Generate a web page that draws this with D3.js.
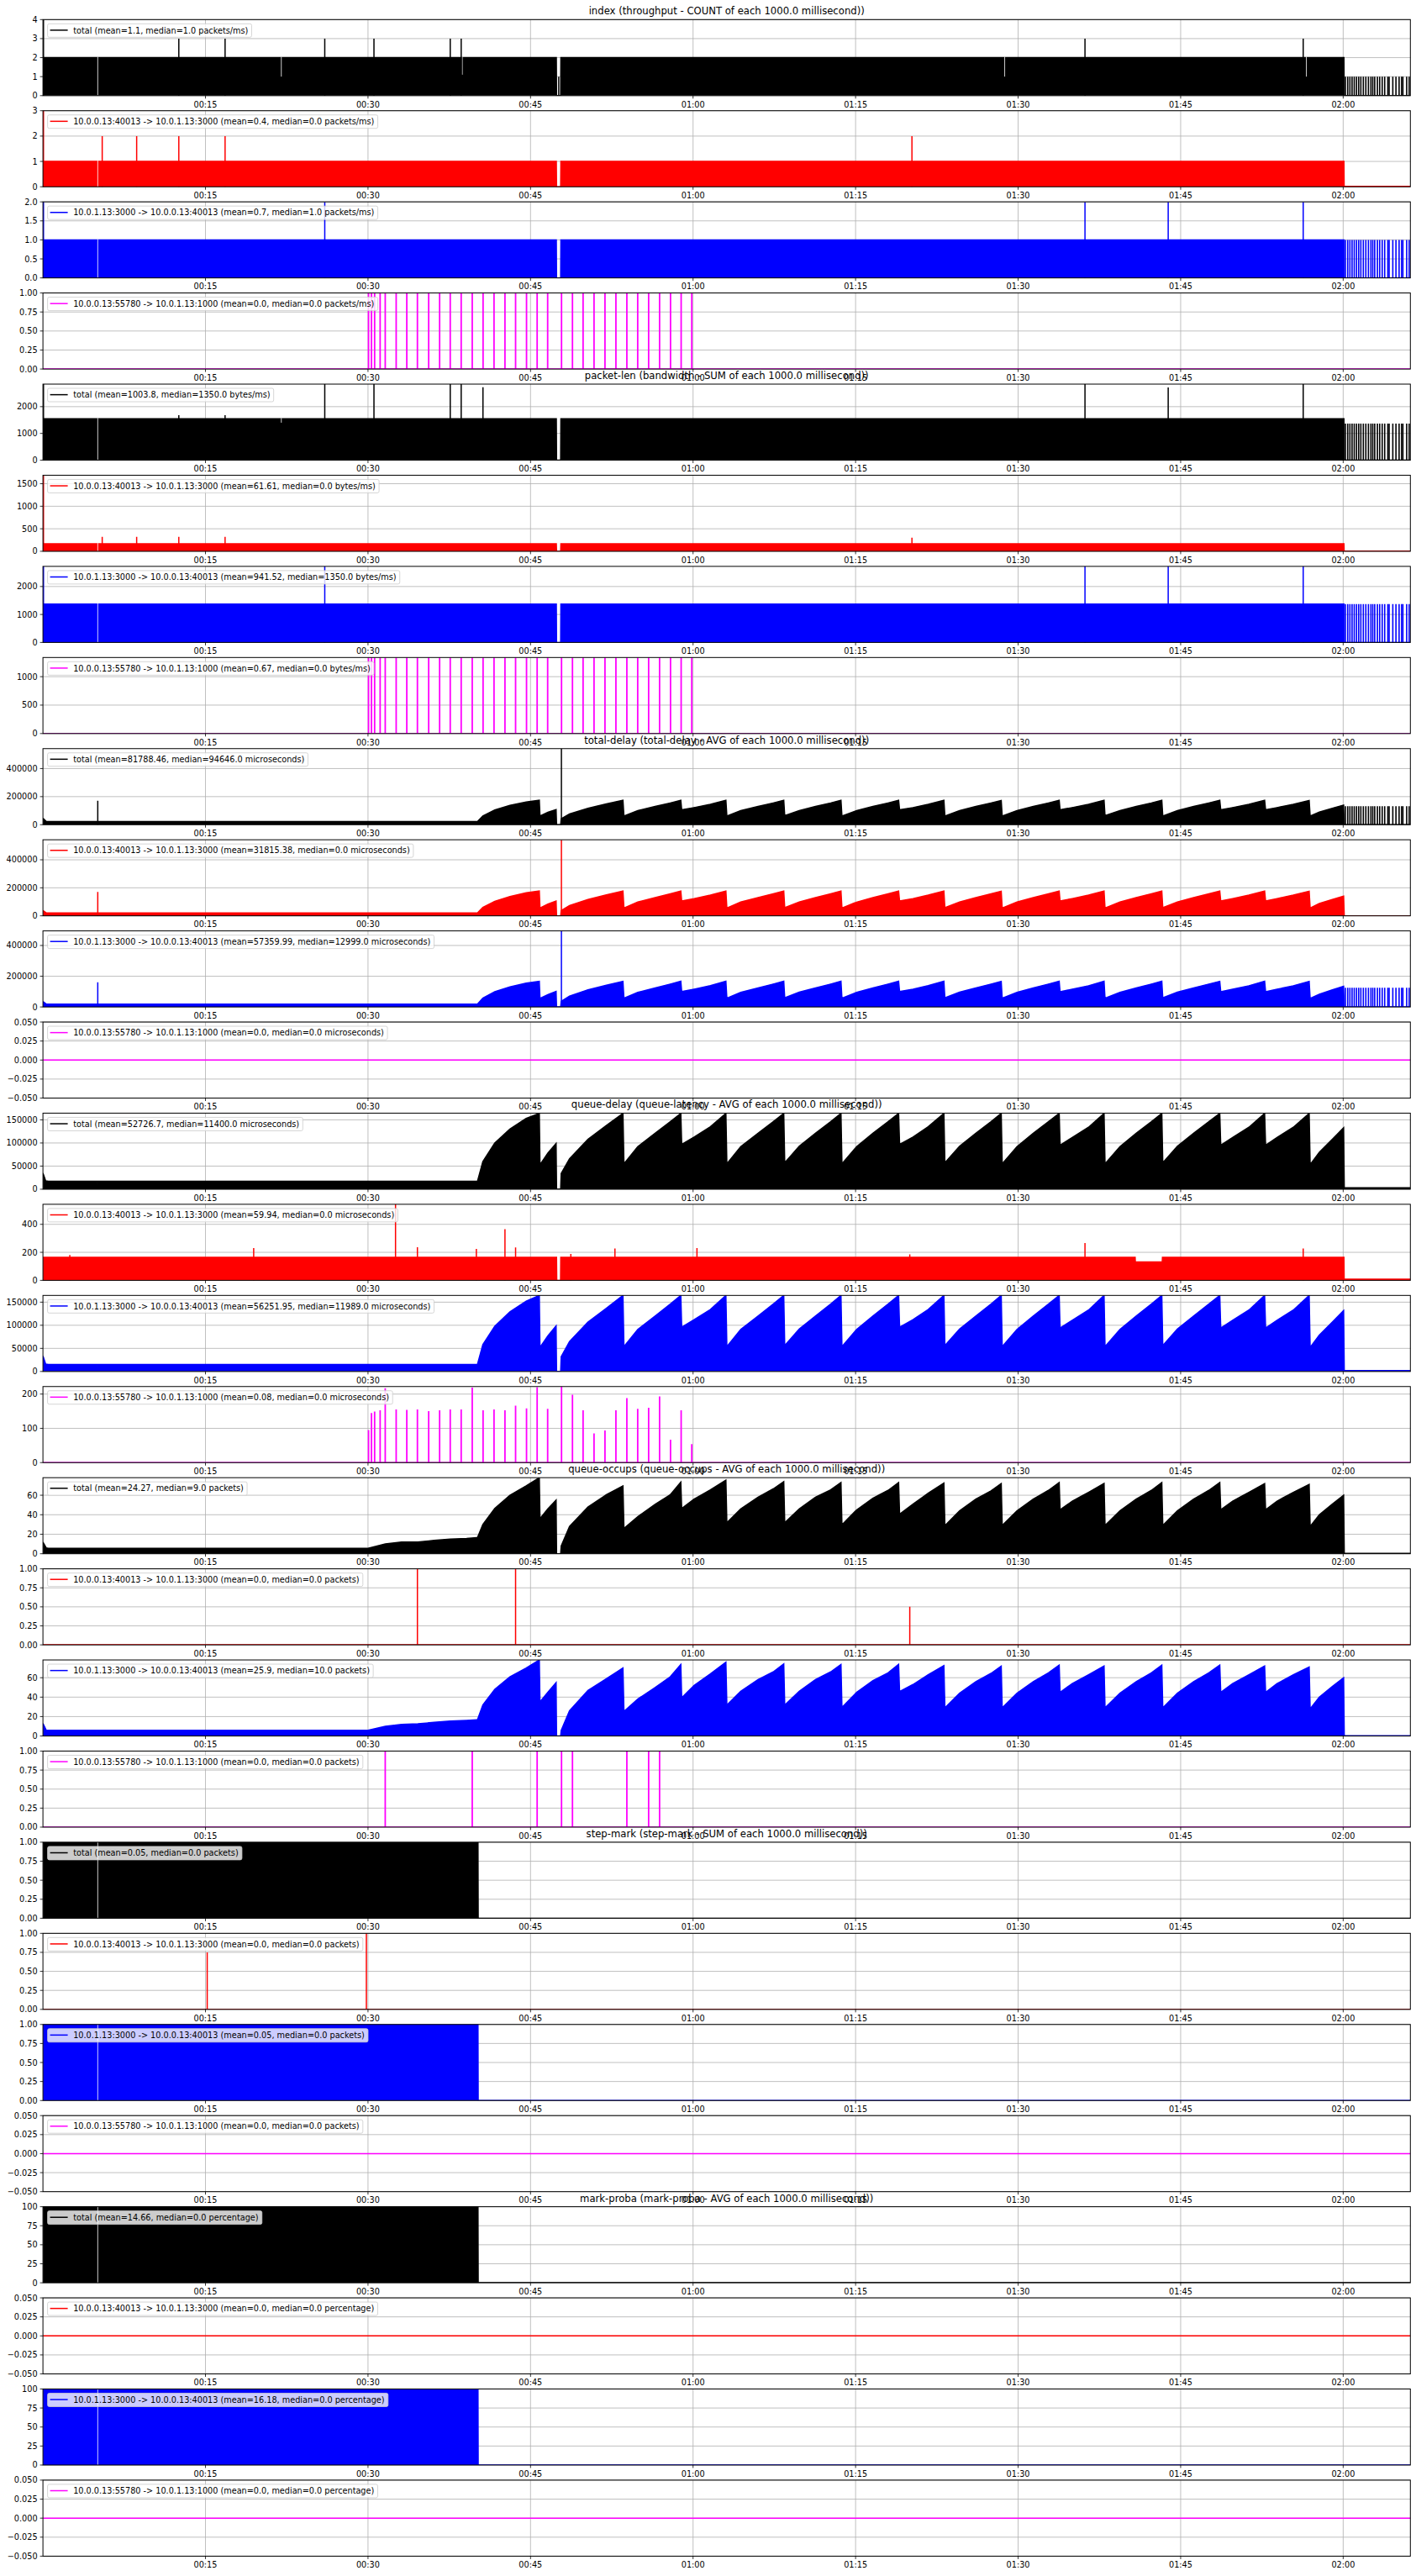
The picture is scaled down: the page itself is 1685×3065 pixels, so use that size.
<!DOCTYPE html>
<html><head><meta charset="utf-8">
<script src="https://cdn.jsdelivr.net/npm/d3@7"></script>
<style>body{margin:0;background:#fff}svg{display:block}text{font-family:"DejaVu Sans",sans-serif;fill:#000}</style>
</head><body><svg id="c" width="1685" height="3065"></svg>
<script>
// ================= DATA =================
const xDomain = [0, 126.2];                       // seconds
const xTicks = [15, 30, 45, 60, 75, 90, 105, 120];
const xTickLabels = ["00:15","00:30","00:45","01:00","01:15","01:30","01:45","02:00"];

const groupTitles = [
  "index (throughput - COUNT of each 1000.0 millisecond))",
  "packet-len (bandwidth - SUM of each 1000.0 millisecond))",
  "total-delay (total-delay - AVG of each 1000.0 millisecond))",
  "queue-delay (queue-latency - AVG of each 1000.0 millisecond))",
  "queue-occups (queue-occups - AVG of each 1000.0 millisecond))",
  "step-mark (step-mark - SUM of each 1000.0 millisecond))",
  "mark-proba (mark-proba - AVG of each 1000.0 millisecond))"
];
const flows = ["total", "10.0.0.13:40013 -> 10.0.1.13:3000", "10.0.1.13:3000 -> 10.0.0.13:40013", "10.0.0.13:55780 -> 10.0.1.13:1000"];
const flowColors = ["#000000", "#ff0000", "#0000ff", "#ff00ff"];
const legendStats = [
  "(mean=1.1, median=1.0 packets/ms)", "(mean=0.4, median=0.0 packets/ms)", "(mean=0.7, median=1.0 packets/ms)", "(mean=0.0, median=0.0 packets/ms)",
  "(mean=1003.8, median=1350.0 bytes/ms)", "(mean=61.61, median=0.0 bytes/ms)", "(mean=941.52, median=1350.0 bytes/ms)", "(mean=0.67, median=0.0 bytes/ms)",
  "(mean=81788.46, median=94646.0 microseconds)", "(mean=31815.38, median=0.0 microseconds)", "(mean=57359.99, median=12999.0 microseconds)", "(mean=0.0, median=0.0 microseconds)",
  "(mean=52726.7, median=11400.0 microseconds)", "(mean=59.94, median=0.0 microseconds)", "(mean=56251.95, median=11989.0 microseconds)", "(mean=0.08, median=0.0 microseconds)",
  "(mean=24.27, median=9.0 packets)", "(mean=0.0, median=0.0 packets)", "(mean=25.9, median=10.0 packets)", "(mean=0.0, median=0.0 packets)",
  "(mean=0.05, median=0.0 packets)", "(mean=0.0, median=0.0 packets)", "(mean=0.05, median=0.0 packets)", "(mean=0.0, median=0.0 packets)",
  "(mean=14.66, median=0.0 percentage)", "(mean=0.0, median=0.0 percentage)", "(mean=16.18, median=0.0 percentage)", "(mean=0.0, median=0.0 percentage)"
];
const yDomains = [
  [0,4],[0,3],[0,2],[0,1],
  [0,2842],[0,1688],[0,2720],[0,1337],
  [0,542000],[0,543000],[0,495000],[-0.05,0.05],
  [0,164500],[0,543],[0,164600],[0,222],
  [0,78],[0,1],[0,78.3],[0,1],
  [0,1],[0,1],[0,1],[-0.05,0.05],
  [0,100],[-0.05,0.05],[0,100],[-0.05,0.05]
];
const tk01 = [0,0.25,0.5,0.75,1], tkZero = [-0.05,-0.025,0,0.025,0.05];
const yTicks = [
  [0,1,2,3,4],[0,1,2,3],[0,0.5,1,1.5,2],tk01,
  [0,1000,2000],[0,500,1000,1500],[0,1000,2000],[0,500,1000],
  [0,200000,400000],[0,200000,400000],[0,200000,400000],tkZero,
  [0,50000,100000,150000],[0,200,400],[0,50000,100000,150000],[0,100,200],
  [0,20,40,60],tk01,[0,20,40,60],tk01,
  tk01,tk01,tk01,tkZero,
  [0,25,50,75,100],tkZero,[0,25,50,75,100],tkZero
];
const yFormats = [
  "d","d",".1f",".2f", "d","d","d","d", "d","d","d",".3f",
  "d","d","d","d", "d",".2f","d",".2f", ".2f",".2f",".2f",".3f", "d",".3f","d",".3f"
];

// ---- flat (dense) series envelopes [time, value] ----
const env1 = [[0,2],[47.38,2],[47.4,0],[47.78,0],[47.8,2],[120.07,2],[120.09,0],[126.2,0]];
const env2 = [[0,1],[47.38,1],[47.4,0],[47.78,0],[47.8,1],[120.07,1],[120.09,0.02],[126.2,0.02]];
const env3 = [[0,1],[47.38,1],[47.4,0],[47.78,0],[47.8,1],[120.07,1],[120.09,0],[126.2,0]];
const envZero = [[0,0],[126.2,0]];
const env5 = [[0,1547],[47.38,1547],[47.4,0],[47.78,0],[47.8,1547],[120.07,1547],[120.09,0],[126.2,0]];
const env6 = [[0,165],[47.38,165],[47.4,0],[47.78,0],[47.8,165],[120.07,165],[120.09,5],[126.2,5]];
const env7 = [[0,1370],[47.38,1370],[47.4,0],[47.78,0],[47.8,1370],[120.07,1370],[120.09,0],[126.2,0]];
const env14 = [[0,165],[47.4,165],[47.42,0],[47.77,0],[47.79,165],[100.8,165],[100.82,131],[103.3,131],[103.32,165],[120.07,165],[120.09,8],[126.2,8]];
const env21 = [[0,1],[40.15,1],[40.17,0],[126.2,0]];
const env25 = [[0,100],[40.15,100],[40.17,0],[126.2,0]];

// ---- saw-tooth series: shared time points + values per panel ----
const sawT = [
  40.1,40.6,41.7,43.1,44.6,45.81,  45.87,46.6,47.36,  47.4,47.78,
  47.83,48.6,50.3,52.0,53.53,  53.62,54.9,56.5,57.9,58.87,  58.95,60.1,61.6,63.03,
  63.12,64.4,66.0,67.4,68.37,  68.46,69.8,71.3,72.7,73.65,  73.74,75.1,76.6,78.0,78.97,
  79.06,80.3,81.7,83.15,  83.24,84.6,86.1,87.5,88.44,  88.53,89.9,91.4,92.8,93.79,
  93.87,95.0,96.5,97.93,  98.02,99.4,100.9,102.3,103.26,  103.35,104.7,106.2,107.6,108.61,
  108.7,109.8,111.3,112.75,  112.84,113.9,115.4,116.86,  116.95,117.8,119.0,120.04,  120.1
];
const tdTotPre = [[0,46000],[0.3,24000],[0.5,22000],[40.05,22000]];
const tdTot = [
  22000,62000,105000,138000,162000,174000, 62000,88000,108000, 0,0,
  42000,76000,117000,148000,174000, 62000,100000,130000,155000,174000, 106000,122000,145000,174000,
  62000,100000,130000,155000,174000, 64000,101000,130000,155000,174000, 62000,100000,130000,155000,174000,
  106000,122000,145000,174000, 62000,100000,130000,155000,172000, 62000,100000,130000,155000,174000,
  106000,122000,145000,174000, 64000,100000,130000,155000,174000, 62000,100000,130000,155000,174000,
  106000,122000,145000,174000, 106000,122000,145000,172000, 62000,90000,117000,140000, 0
];
const tdRedPre = [[0,38000],[0.3,21000],[0.5,20000],[40.05,20000]];
const tdRed = [
  20000,60000,104000,138000,164000,177000, 56000,84000,106000, 0,0,
  38000,74000,116000,149000,177000, 56000,98000,130000,157000,177000, 106000,123000,148000,177000,
  56000,98000,130000,157000,177000, 58000,99000,130000,157000,177000, 56000,98000,130000,157000,177000,
  106000,123000,148000,177000, 58000,99000,130000,157000,176000, 56000,98000,130000,157000,177000,
  106000,123000,148000,177000, 56000,98000,130000,157000,177000, 58000,99000,130000,157000,177000,
  106000,123000,148000,177000, 106000,123000,148000,176000, 56000,88000,116000,140000, 0
];
const tdBluePre = [[0,35000],[0.3,19000],[0.5,18000],[40.05,18000]];
const tdBlue = [
  18000,58000,99000,130000,155000,167000, 55000,80000,101000, 0,0,
  36000,70000,111000,141000,167000, 57000,95000,124000,149000,167000, 100000,116000,139000,167000,
  57000,95000,124000,149000,167000, 59000,96000,124000,149000,167000, 57000,95000,124000,149000,167000,
  100000,116000,139000,167000, 59000,96000,124000,149000,166000, 57000,95000,124000,149000,167000,
  99000,115000,138000,167000, 57000,95000,124000,149000,167000, 59000,96000,124000,149000,167000,
  99000,115000,138000,167000, 99000,115000,138000,166000, 55000,83000,111000,134000, 0
];
const qdTotPre = [[0,35000],[0.25,18000],[0.5,17000],[5.02,17000],[5.04,5000],[5.1,5000],[5.12,17000],[40.05,17000]];
const qdTot = [
  17000,60000,100000,130000,153000,164000, 53000,78000,99000, 0,0,
  34000,66000,108000,138000,164000, 55000,92000,121000,146000,164000, 97000,113000,135000,164000,
  55000,92000,121000,146000,164000, 57000,93000,121000,146000,164000, 55000,92000,121000,146000,164000,
  97000,113000,135000,164000, 57000,93000,121000,146000,164000, 55000,92000,121000,146000,164000,
  95000,112000,134000,164000, 55000,92000,121000,146000,164000, 57000,93000,121000,146000,164000,
  95000,112000,134000,164000, 95000,112000,134000,164000, 53000,80000,108000,133000, 3000
];
const qdBluePre = [[0,33600],[0.25,16000],[0.5,15300],[5.02,15300],[5.04,5000],[5.1,5000],[5.12,15300],[40.05,15300]];
const qdBlue = [
  15300,58000,98000,129000,152000,164600, 52000,77000,98500, 0,0,
  32000,65000,107000,137000,164600, 54000,91000,120000,146000,164600, 96000,112000,134000,164600,
  54000,91000,120000,146000,164600, 56000,92000,120000,146000,164600, 54000,91000,120000,146000,164600,
  96000,112000,134000,164600, 56000,92000,120000,146000,164600, 54000,91000,120000,146000,164600,
  94000,111000,133000,164600, 54000,91000,120000,146000,164600, 56000,92000,120000,146000,164600,
  94000,111000,133000,164600, 94000,111000,133000,164600, 52000,79000,107000,132000, 2000
];
const qoTotPre = [[0,12],[0.3,6],[0.5,5.5],[5.02,5.5],[5.04,1.5],[5.1,1.5],[5.12,5.5],[30.0,5.5],[31.6,10],[33.1,12],[34.6,12],[36.1,13.7],[37.6,15],[39.1,15.7],[40.05,16.6]];
const qoTot = [
  16.6,30,46.5,60,69.6,78, 36,46,55, 0,0,
  8,28,48,60.5,69.6, 26,38,50.7,60.5,73.4, 46.3,56,65.5,75.4,
  31.7,46,58,66.5,74, 31.7,46,58,65.5,73, 29.7,45,57,65,73,
  40.5,51,62,72.5, 28.8,44,56,64.5,72, 29,44,56,65,73,
  45,54,63,72, 29,44,56,65,73, 29,44,56,65,73,
  45,54,63,72, 45,54,63,71, 28,40,51,60, 0.3
];
const qoBluePre = [[0,13],[0.3,6],[0.5,5.8],[5.02,5.8],[5.04,1.5],[5.1,1.5],[5.12,5.8],[30.0,5.8],[31.6,10],[33.1,12],[34.6,12.5],[36.1,14],[37.6,15.4],[39.1,16],[40.05,16.6]];
const qoBlue = [
  16.6,32,48,61,70,78.3, 35,45,55, 0,0,
  5.8,26,47,59,70, 25.3,38,50,61,73.7, 39.3,52,64,76,
  31.7,46,58,66,74.2, 31.7,46,58,66,73.7, 29.4,45,57,65,73.7,
  45.7,53,63,72.5, 29,44,56,64.5,72, 29,44,56,65,73,
  45,54,63,72, 29,44,56,65,73, 29,44,56,65,73,
  45,54,63,72, 45,54,63,71, 28,40,51,60, 0.3
];

// ---- isolated spikes [time, value] ----
const spk1 = [[0.05,4],[12.54,3],[16.81,3],[26.01,3],[30.55,3],[37.59,3],[38.6,3],[47.6,1],[96.17,3],[116.31,3]];
const spk2 = [[0.05,3],[5.47,2],[8.65,2],[12.54,2],[16.81,2],[80.2,2]];
const spk3 = [[0.05,2],[26.01,2],[96.17,2],[103.85,2],[116.31,2]];
const spk5 = [[0.05,2842],[12.54,1684],[16.81,1684],[26.01,2842],[30.55,2842],[37.59,2842],[38.6,2842],[40.61,2726],[96.17,2842],[103.85,2720],[116.31,2842]];
const spk6 = [[0.05,1688],[5.47,320],[8.65,320],[12.54,320],[16.81,320],[80.2,300]];
const spk7 = [[0.05,2720],[26.01,2720],[96.17,2720],[103.85,2720],[116.31,2720]];
const spk9 = [[5.06,170000],[47.85,542000]];
const spk10 = [[5.06,171000],[47.85,543000]];
const spk11 = [[5.06,160000],[47.85,495000]];
const spk14 = [[2.48,181],[19.45,231],[32.54,543],[34.56,237],[40.0,225],[42.64,366],[43.62,235],[48.72,189],[52.79,227],[60.36,231],[80.0,185],[96.17,267],[116.31,227]];
const spk18 = [[34.56,1],[43.62,1],[80.0,0.5]];
const spk22 = [[15.16,0.75],[29.85,1]];
const magT = [30.05,30.32,30.61,31.12,31.59,32.6,33.58,34.56,35.6,36.61,37.59,38.6,39.62,40.62,41.63,42.64,43.62,44.63,45.61,46.58,47.86,48.87,49.85,50.86,51.87,52.88,53.89,54.89,55.9,56.91,57.92,58.9,59.88];
const magPkts = [1,1,1,1,1,1,1,1,1,1,1,1,1,1,1,1,1,1,1,1,1,1,1,1,1,1,1,1,1,1,1,1,1];
const magBytes = [1337,1337,1337,1337,1337,1337,1337,1337,1337,1337,1337,1337,1337,1337,1337,1337,1337,1337,1337,1337,1337,1337,1337,1337,1337,1337,1337,1337,1337,1337,1337,1337,1337];
const magQD = [95,145,149,153,217,155,154,155,150,153,155,155,219,153,155,153,166,158,220,157,222,198,153,85,94,153,188,157,160,193,67,153,54];
const magOccT = [31.59,39.62,45.61,47.86,48.87,53.89,55.9,56.91];

// ---- white gaps in dense fills [time, low, high] ----
const gap1 = [[5.06,0,2],[22.0,1,2],[38.7,1.1,2],[88.76,1,2],[116.6,1,2]];
const gap2 = [[5.06,0,1]];
const gap5 = [[5.06,0,1547],[22.0,1400,1547]];
const gap6 = [[5.06,0,165]];
const gap7 = [[5.06,0,1370]];
const gap21 = [[5.06,0,1]];
const gap25 = [[5.06,0,100]];

// ---- stripes after 02:00 (times) ----
const stripeT = [120.21,120.42,120.62,120.82,121.02,121.23,121.43,121.63,121.86,122.09,122.33,122.56,122.73,122.91,123.16,123.37,123.6,123.83,124.12,124.24,124.58,124.87,125.16,125.39,125.51,125.86,126.09];

// ================= BUILD =================
const build = (pre, vals, post) => pre.concat(sawT.map((t, i) => [t, vals[i]]), post);
const zip = (ts, vs) => ts.map((t, i) => [t, vs[i]]);
const ones = v => magOccT.map(t => [t, v]);

const panelEnv = [
  env1, env2, env3, envZero,
  env5, env6, env7, envZero,
  build(tdTotPre, tdTot, [[126.2,0]]), build(tdRedPre, tdRed, [[126.2,0]]), build(tdBluePre, tdBlue, [[126.2,0]]), envZero,
  build(qdTotPre, qdTot, [[126.2,3000]]), env14, build(qdBluePre, qdBlue, [[126.2,2000]]), envZero,
  build(qoTotPre, qoTot, [[126.2,0.3]]), envZero, build(qoBluePre, qoBlue, [[126.2,0.3]]), envZero,
  env21, envZero, env21, envZero,
  env25, envZero, env25, envZero
];
const panelSpikes = [
  spk1, spk2, spk3, zip(magT, magPkts),
  spk5, spk6, spk7, zip(magT, magBytes),
  spk9, spk10, spk11, [],
  [], spk14, [], zip(magT, magQD),
  [], spk18, [], ones(1),
  [], spk22, [], [],
  [], [], [], []
];
const panelGaps = [gap1, gap2, gap2, [], gap5, gap6, gap7, [], [], [], [], [], [], [], [], [], [], [], [], [], gap21, [], gap21, [], gap25, [], gap25, []];
const stripeV = {0:1, 2:1, 4:1370, 6:1370, 8:132000, 10:125000};

// ================= DRAW =================
const AX_L = 51.1, AX_R = 1678.3, TOP0 = 23.3, PITCH = 108.43, AX_H = 90.5;
const FS = 9.7, FS_T = 11.65;
const svg = d3.select("#c");
const defs = svg.append("defs");
const x = d3.scaleLinear().domain(xDomain).range([AX_L, AX_R]);

for (let i = 0; i < 28; i++) {
  const top = TOP0 + i * PITCH, bot = top + AX_H;
  const col = flowColors[i % 4];
  const y = d3.scaleLinear().domain(yDomains[i]).range([bot, top]);
  const g = svg.append("g");
  defs.append("clipPath").attr("id", "cp" + i).append("rect")
    .attr("x", AX_L).attr("y", top).attr("width", AX_R - AX_L).attr("height", AX_H);

  // grid
  const grid = g.append("g").attr("stroke", "#b0b0b0").attr("stroke-width", 0.8);
  grid.selectAll(".gx").data(xTicks).join("line")
    .attr("x1", d => x(d)).attr("x2", d => x(d)).attr("y1", top).attr("y2", bot);
  grid.selectAll(".gy").data(yTicks[i]).join("line")
    .attr("x1", AX_L).attr("x2", AX_R).attr("y1", d => y(d)).attr("y2", d => y(d));

  // data
  const dg = g.append("g").attr("clip-path", `url(#cp${i})`);
  const env = panelEnv[i];
  dg.append("path").datum(env)
    .attr("d", d3.area().x(d => x(d[0])).y0(y(Math.max(0, yDomains[i][0]))).y1(d => y(d[1])))
    .attr("fill", col).attr("stroke", "none");
  dg.append("path").datum(env)
    .attr("d", d3.line().x(d => x(d[0])).y(d => y(d[1])))
    .attr("fill", "none").attr("stroke", col).attr("stroke-width", 1.5);
  dg.selectAll(".gap").data(panelGaps[i]).join("line")
    .attr("x1", d => x(d[0])).attr("x2", d => x(d[0]))
    .attr("y1", d => y(d[1])).attr("y2", d => y(d[2]) - 1)
    .attr("stroke", "#ffffff").attr("stroke-opacity", 0.8).attr("stroke-width", 1);
  dg.selectAll(".spk").data(panelSpikes[i]).join("line")
    .attr("x1", d => x(d[0])).attr("x2", d => x(d[0]))
    .attr("y1", y(0) + 1).attr("y2", d => y(d[1]))
    .attr("stroke", col).attr("stroke-width", i % 4 === 3 ? 1.8 : 1.5);
  if (stripeV[i] !== undefined) {
    dg.selectAll(".str").data(stripeT).join("line")
      .attr("x1", d => x(d)).attr("x2", d => x(d))
      .attr("y1", y(0)).attr("y2", y(stripeV[i]))
      .attr("stroke", col).attr("stroke-width", 1.6);
  }

  // spines
  g.append("rect").attr("x", AX_L).attr("y", top).attr("width", AX_R - AX_L).attr("height", AX_H)
    .attr("fill", "none").attr("stroke", "#000").attr("stroke-width", 1);

  // ticks
  const fmt = d3.format(yFormats[i]);
  const yt = g.append("g");
  yt.selectAll("line").data(yTicks[i]).join("line")
    .attr("x1", AX_L - 3.5).attr("x2", AX_L).attr("y1", d => y(d)).attr("y2", d => y(d))
    .attr("stroke", "#000").attr("stroke-width", 0.8);
  yt.selectAll("text").data(yTicks[i]).join("text")
    .attr("x", AX_L - 6.5).attr("y", d => y(d)).attr("dy", "0.36em")
    .attr("text-anchor", "end").attr("font-size", FS).text(d => fmt(d));
  const xt = g.append("g");
  xt.selectAll("line").data(xTicks).join("line")
    .attr("x1", d => x(d)).attr("x2", d => x(d)).attr("y1", bot).attr("y2", bot + 3.5)
    .attr("stroke", "#000").attr("stroke-width", 0.8);
  xt.selectAll("text").data(xTicks).join("text")
    .attr("x", d => x(d)).attr("y", bot + 13.8).attr("text-anchor", "middle")
    .attr("font-size", FS).text((d, k) => xTickLabels[k]);

  // legend
  const lg = g.append("g");
  const bx = AX_L + 5.5, by = top + 5;
  const box = lg.append("rect").attr("x", bx).attr("y", by).attr("height", 16).attr("rx", 2)
    .attr("fill", "#ffffff").attr("fill-opacity", 0.8).attr("stroke", "#cccccc").attr("stroke-opacity", 0.8).attr("stroke-width", 1);
  lg.append("line").attr("x1", bx + 3).attr("x2", bx + 24).attr("y1", by + 7.6).attr("y2", by + 7.6)
    .attr("stroke", col).attr("stroke-width", 1.5);
  const lt = lg.append("text").attr("x", bx + 30.6).attr("y", by + 11.3).attr("font-size", FS)
    .text(flows[i % 4] + " " + legendStats[i]);
  box.attr("width", 30.6 + lt.node().getComputedTextLength() + 4.2);

  // group title
  if (i % 4 === 0) {
    svg.append("text").attr("x", (AX_L + AX_R) / 2).attr("y", top - 6)
      .attr("text-anchor", "middle").attr("font-size", FS_T).text(groupTitles[i / 4]);
  }
}
</script>
</body></html>
